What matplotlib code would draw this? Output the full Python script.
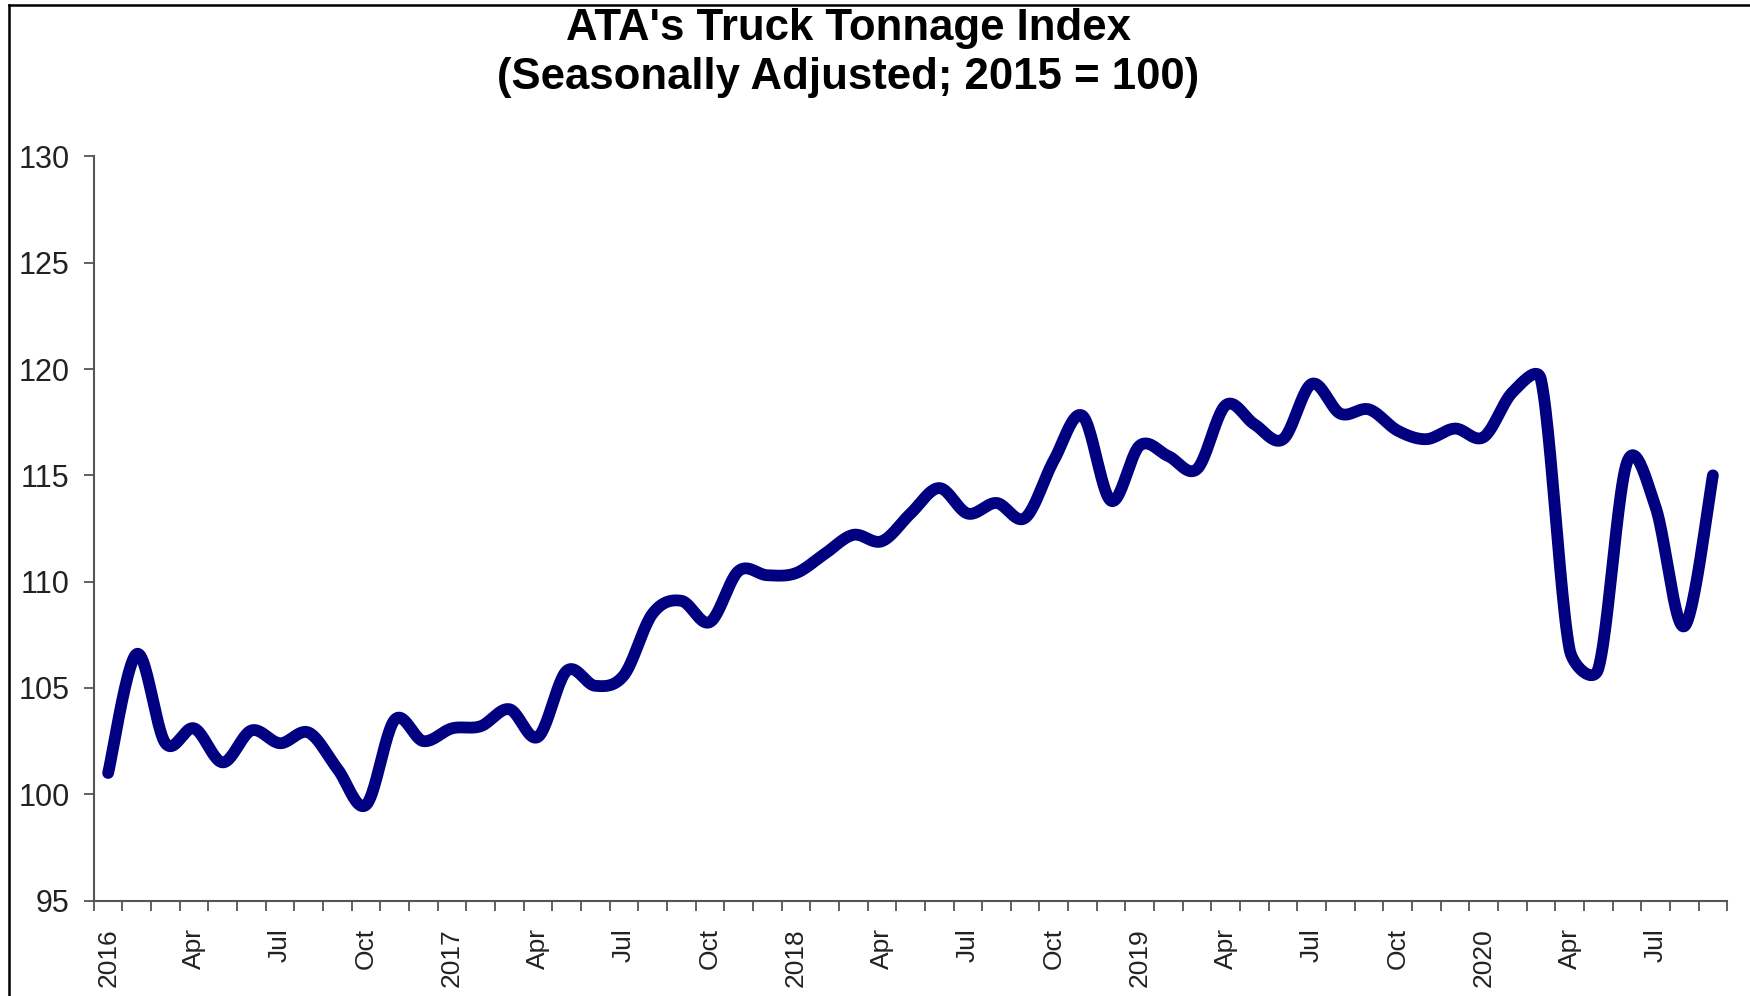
"""ATA truck tonnage index, monthly 2016 - Sep 2020 (smoothed line chart)."""
import numpy as np
import matplotlib
matplotlib.use("Agg")
import matplotlib.pyplot as plt
from matplotlib import font_manager as fm
from matplotlib.lines import Line2D

# monthly index values, Jan 2016 .. Sep 2020
tonnage = [
    101.0, 106.6, 102.4, 103.1, 101.5, 103.0, 102.4, 102.9, 101.2, 99.5, 103.5, 102.5,
    103.1, 103.2, 104.0, 102.7, 105.8, 105.1, 105.6, 108.5, 109.1, 108.1, 110.5, 110.3,
    110.4, 111.3, 112.2, 111.9, 113.2, 114.4, 113.2, 113.7, 113.0, 115.7, 117.8, 113.8,
    116.4, 115.9, 115.3, 118.3, 117.4, 116.7, 119.3, 117.9, 118.1, 117.1, 116.7, 117.2,
    116.8, 118.9, 119.5, 106.8, 105.9, 115.6, 113.5, 107.9, 115.0,
]
month_labels = ["2016", "Apr", "Jul", "Oct", "2017", "Apr", "Jul", "Oct",
                "2018", "Apr", "Jul", "Oct", "2019", "Apr", "Jul", "Oct",
                "2020", "Apr", "Jul"]
y_ticks = [95, 100, 105, 110, 115, 120, 125, 130]

names = {f.name for f in fm.fontManager.ttflist}
narrow = "Liberation Sans Narrow" if "Liberation Sans Narrow" in names else "Liberation Sans"
plt.rcParams["font.family"] = ["Liberation Sans", "DejaVu Sans"]

# rough screen scale (px per month, px per index point) used for smoothing
SX, SY = 28.67, 21.27


def smooth(y, steps=24, clamp=0.5):
    """Catmull-Rom style Bezier through the points; control arms are capped
    relative to the screen length of each segment to limit overshoot."""
    y = np.asarray(y, dtype=float)
    n = len(y)
    P = np.column_stack([np.arange(n) * SX, y * SY])
    Pe = np.vstack([P[0], P, P[-1]])
    t = np.linspace(0, 1, steps, endpoint=False)[:, None]
    b0, b1, b2, b3 = (1 - t) ** 3, 3 * t * (1 - t) ** 2, 3 * t ** 2 * (1 - t), t ** 3
    out = []
    for i in range(n - 1):
        p1, p2 = P[i], P[i + 1]
        seg = np.linalg.norm(p2 - p1)
        v1 = (Pe[i + 2] - Pe[i]) / 6
        v2 = (Pe[i + 3] - Pe[i + 1]) / 6
        for v in (v1, v2):
            L = np.linalg.norm(v)
            if L > clamp * seg:
                v *= clamp * seg / L
        out.append(b0 * p1 + b1 * (p1 + v1) + b2 * (p2 - v2) + b3 * p2)
    out.append(P[-1:])
    pts = np.vstack(out)
    return pts[:, 0] / SX, pts[:, 1] / SY


fig = plt.figure(figsize=(17.5, 9.96), dpi=100)
ax = fig.add_axes([0.0536, 0.0958, 0.9334, 0.7472])

sx, sy = smooth(tonnage)
ax.plot(sx, sy, color="#000080", linewidth=8.5, solid_capstyle="round",
        solid_joinstyle="round")

n = len(tonnage)
ax.set_xlim(-0.5, n - 0.5)
ax.set_ylim(95, 130)

ax.set_xticks(np.arange(0, n, 3))
ax.set_xticklabels(month_labels, rotation=90, fontsize=19, color="#222222")
ax.set_xticks(np.arange(-0.5, n, 1), minor=True)
ax.tick_params(axis="x", which="major", length=0, pad=20)
ax.tick_params(axis="x", which="minor", length=7.5, width=1.3, color="#555555",
               direction="out")

ax.set_yticks(y_ticks)
ax.set_yticklabels([str(v) for v in y_ticks], fontsize=22, color="#222222")
ax.tick_params(axis="y", length=7.5, width=1.3, color="#555555", pad=10)

for side in ("top", "right"):
    ax.spines[side].set_visible(False)
for side in ("left", "bottom"):
    ax.spines[side].set_color("#555555")
    ax.spines[side].set_linewidth(1.5)

fig.text(0.4846, 0.9715, "ATA's Truck Tonnage Index", ha="center", va="center",
         fontsize=31.5, fontweight="bold", family=narrow)
fig.text(0.4846, 0.9225, "(Seasonally Adjusted; 2015 = 100)", ha="center",
         va="center", fontsize=31.5, fontweight="bold", family=narrow)

# thin frame around the picture
frame = dict(color="black", linewidth=1.8, transform=fig.transFigure)
fig.add_artist(Line2D([9 / 1750, 9 / 1750], [0, 1 - 5 / 996], **frame))
fig.add_artist(Line2D([9 / 1750, 1], [1 - 5 / 996, 1 - 5 / 996], **frame))

fig.savefig("out.png", dpi=100)
